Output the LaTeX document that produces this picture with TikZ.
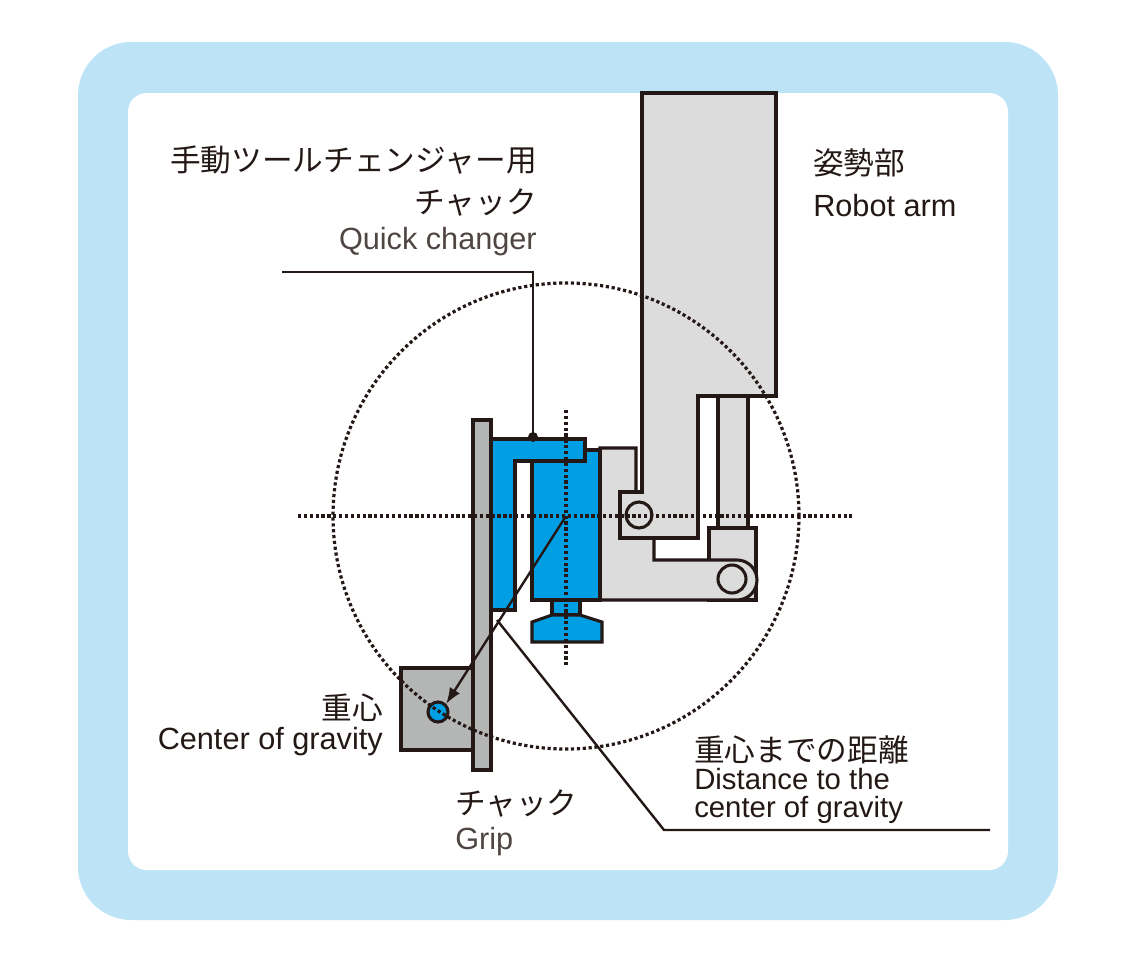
\documentclass[tikz,border=0pt]{standalone}
\usepackage{fontspec}
\setmainfont{Liberation Sans}
\newfontfamily\jp{Noto Sans CJK JP}
\usetikzlibrary{arrows.meta}
\definecolor{frameblue}{HTML}{BDE3F7}
\definecolor{partblue}{HTML}{009FE3}
\definecolor{armgray}{HTML}{DCDCDC}
\definecolor{gripgray}{HTML}{B4B5B5}
\definecolor{ink}{HTML}{231815}
\tikzset{
  part/.style = {draw=ink,line width=2.3pt,line join=miter},
  guide/.style = {ink,line width=2.4pt,dotted},
  leader/.style = {ink,line width=1.8pt},
  label/.style = {font=\fontsize{23}{26}\selectfont,text=ink,inner sep=0pt},
  sub/.style = {label,text=ink!80}
}
\begin{document}
\begin{tikzpicture}[x=0.75pt,y=-0.75pt]
  \useasboundingbox (0,0) rectangle (1132,964);
  % frame
  \fill[frameblue,rounded corners=40pt] (78,42) rectangle (1058,920);
  \fill[white,rounded corners=14pt] (128,93) rectangle (1008,870);
  % rod and lower link
  \draw[part,fill=armgray] (718,396) rectangle (748,528);
  \draw[part,fill=armgray] (709,528) rectangle (756,600);
  \draw[part,fill=armgray] (600,448) -- (636,448) -- (636,538) -- (654,538) -- (654,560)
    -- (737,560) arc (-90:90:20) -- (600,600) -- cycle;
  % robot arm
  \draw[part,fill=armgray] (642,93) -- (776,93) -- (776,396) -- (698,396) -- (698,538)
    -- (620,538) -- (620,492) -- (642,492) -- cycle;
  \draw[part] (639,515) circle (13);
  \draw[part] (732,579) circle (14);
  % quick changer
  \draw[part,fill=partblue] (532,450) rectangle (600,600);
  \draw[part,fill=partblue] (552,600) rectangle (580,615);
  \draw[part,fill=partblue] (552,615) -- (532,622) -- (532,642) -- (602,642) -- (602,622) -- (580,615) -- cycle;
  \draw[part,fill=partblue] (491,439) -- (585,439) -- (585,461) -- (515,461) -- (515,610) -- (491,610) -- cycle;
  % grip
  \draw[part,fill=gripgray] (401,668) rectangle (473,750);
  \draw[part,fill=gripgray] (473,420) rectangle (491,770);
  % center of gravity
  \node[circle,draw=ink,line width=2.3pt,fill=partblue,minimum size=15pt,inner sep=0pt] (cog) at (438,712) {};
  % guides
  \draw[guide] (566,516) circle (233);
  \draw[guide] (298,516) -- (852,516);
  \draw[guide] (566,410) -- (566,668);
  \coordinate (axis) at (566,516);
  \draw[leader,-{Latex[length=12pt,width=9pt]}] (axis) -- (cog.north east);
  % leaders
  \fill[ink] (533,437) circle (5);
  \draw[leader] (282,272) -- (533,272) -- (533,437);
  \draw[leader] (497,620) -- (664,830) -- (990,830);
  % labels
  \node[label,anchor=east] (qc1) at (537,160) {\jp 手動ツールチェンジャー用};
  \node[label,anchor=east] (qc2) at (537,203) {\jp チャック};
  \node[sub,anchor=east] (qc3) at (537,242) {Quick changer};
  \node[label,anchor=west] (ra1) at (813,163) {\jp 姿勢部};
  \node[label,anchor=west] (ra2) at (813,206) {Robot arm};
  \node[label,anchor=east] (cg1) at (383,708) {\jp 重心};
  \node[label,anchor=east] (cg2) at (383,742) {Center of gravity};
  \node[label,anchor=west] (gr1) at (455,803) {\jp チャック};
  \node[sub,anchor=west] (gr2) at (455,842) {Grip};
  \node[label,anchor=west] (ds1) at (694,750) {\jp 重心までの距離};
  \node[label,anchor=north west,align=left,font=\fontsize{22}{21}\selectfont] (ds2) at (694,768)
    {Distance to the\\center of gravity};
\end{tikzpicture}
\end{document}
